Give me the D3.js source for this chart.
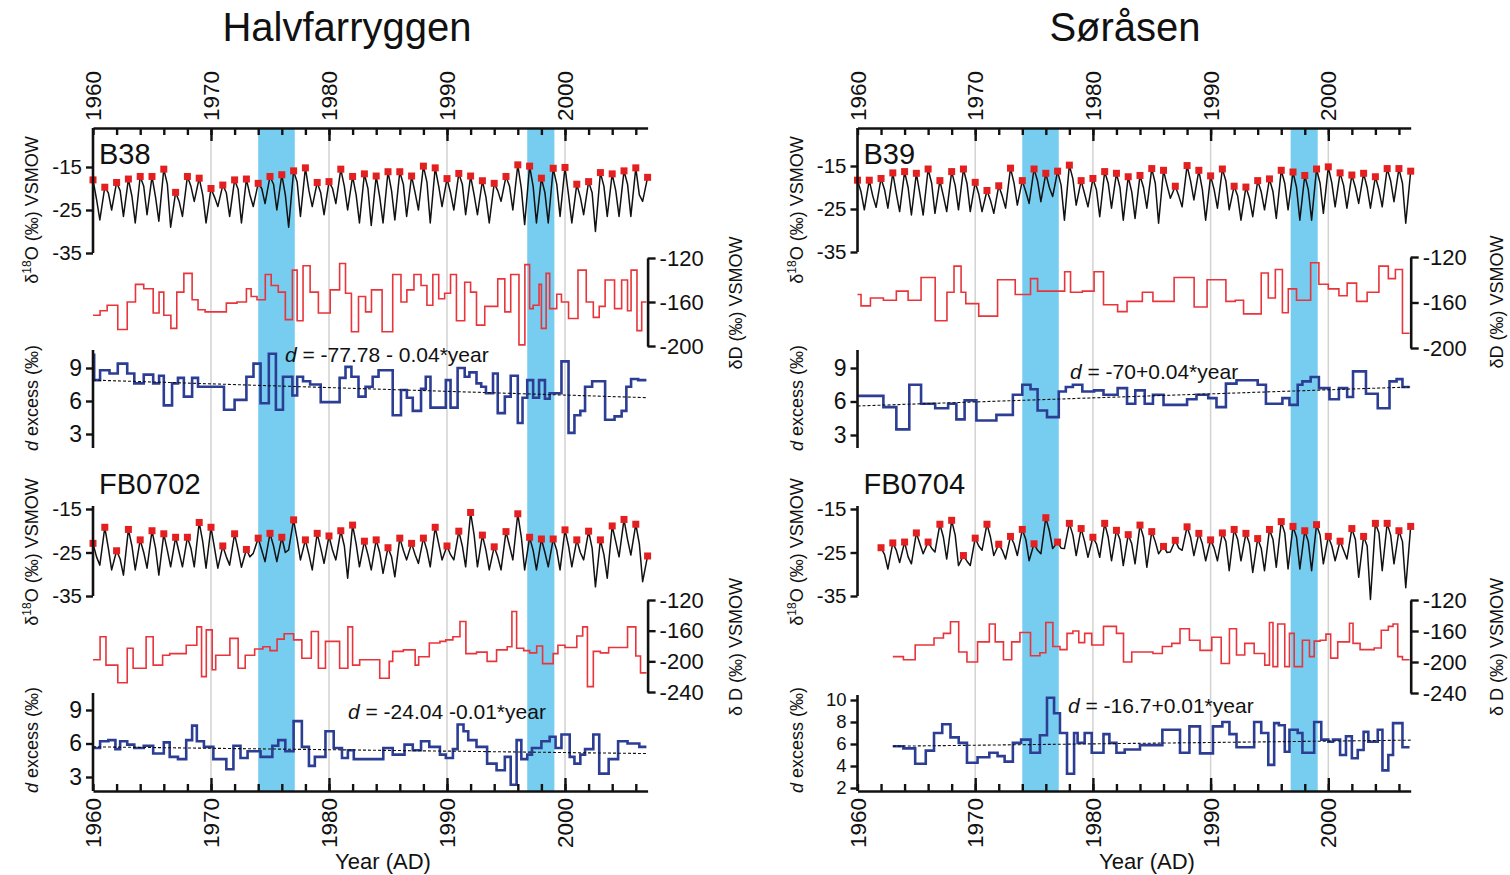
<!DOCTYPE html>
<html>
<head>
<meta charset="utf-8">
<script src="https://cdn.jsdelivr.net/npm/d3@7"></script>
<style>
  body { margin: 0; background: #fff; }
  text { font-family: "Liberation Sans", Arial, sans-serif; fill: #111; }
</style>
</head>
<body>
<script>
// ---- shared ticks / periods ----
const decadeTicks = [1960, 1970, 1980, 1990, 2000];
const minorTicks = [1960, 1962, 1964, 1966, 1968, 1970, 1972, 1974, 1976, 1978, 1980, 1982,
  1984, 1986, 1988, 1990, 1992, 1994, 1996, 1998, 2000, 2002, 2004, 2006];
const gridYears = [1970, 1980, 1990, 2000];
const bands = [[1974.0, 1977.1], [1996.8, 1999.1]];
const o18Ticks = [-15, -25, -35];
const seriesEnd = 2006.9;

// ---- B38 (Halvfarryggen, upper) ----
// annual summer peaks (red dots) from 1960, troughs mid-year, shoulder after peak
const b38Peaks = [-18.0, -19.7, -18.6, -17.8, -17.2, -17.2, -15.5, -20.9, -17.2, -17.6,
  -20.0, -19.2, -18.0, -17.8, -18.8, -17.2, -16.8, -15.9, -15.2, -18.6,
  -18.4, -15.5, -17.2, -16.6, -17.1, -16.1, -16.1, -17.1, -14.8, -15.2,
  -17.7, -16.5, -17.1, -18.2, -18.8, -17.2, -14.5, -14.8, -17.6, -15.3,
  -15.1, -19.0, -18.4, -16.3, -16.6, -15.9, -15.2, -17.4];
const b38Shoulders = [-22.5, -21.0, -20.5, -21.8, -19.5, -22.0, -19.0, -23.0, -19.5, -21.5,
  -22.0, -21.0, -20.2, -21.5, -20.0, -19.0, -21.5, -18.5, -20.5, -21.0,
  -20.0, -19.5, -21.5, -20.0, -22.0, -20.5, -19.0, -21.0, -18.5, -19.5,
  -21.0, -19.0, -21.5, -22.0, -20.5, -19.5, -20.0, -19.5, -21.0, -19.0,
  -21.5, -22.0, -21.0, -19.5, -20.5, -19.0, -21.5];
const b38Troughs = [-27.3, -25.0, -26.5, -28.0, -26.1, -27.6, -29.0, -26.5, -23.0, -28.0,
  -24.2, -26.5, -28.0, -24.2, -23.5, -25.0, -29.0, -26.5, -24.2, -26.1,
  -23.5, -25.0, -28.0, -28.6, -28.0, -27.3, -26.5, -25.0, -28.0, -24.2,
  -25.0, -26.1, -26.1, -28.0, -23.0, -25.0, -28.4, -28.0, -28.0, -26.5,
  -28.0, -26.1, -30.0, -26.5, -26.5, -26.5, -23.0];
const b38dD = [[1960.0, -172], [1960.6, -168], [1961.2, -163], [1962.1, -185], [1962.9, -160],
  [1963.6, -144], [1964.3, -148], [1965.1, -170], [1965.6, -151], [1966.0, -172], [1966.6, -184],
  [1967.1, -151], [1967.7, -134], [1968.4, -158], [1968.9, -167], [1969.5, -169], [1971.3, -161],
  [1972.2, -160], [1973.0, -148], [1973.4, -155], [1973.9, -158], [1974.6, -135], [1975.1, -145],
  [1975.7, -151], [1976.3, -176], [1976.9, -131], [1977.3, -177], [1977.8, -127], [1978.4, -151],
  [1979.1, -170], [1980.1, -149], [1980.9, -125], [1981.4, -152], [1981.9, -187], [1982.5, -155],
  [1983.1, -169], [1983.6, -149], [1984.5, -187], [1985.4, -135], [1986.1, -160], [1986.6, -149],
  [1987.2, -135], [1987.8, -145], [1988.3, -163], [1988.8, -135], [1989.3, -157], [1989.8, -152],
  [1990.3, -135], [1990.8, -177], [1991.5, -142], [1992.0, -151], [1992.5, -181], [1993.2, -164],
  [1994.3, -139], [1994.9, -169], [1995.4, -135], [1996.1, -199], [1996.6, -126], [1997.0, -166],
  [1997.3, -163], [1997.8, -144], [1998.0, -184], [1998.4, -134], [1998.7, -166], [1999.3, -153],
  [1999.7, -160], [2000.3, -175], [2001.1, -131], [2001.8, -160], [2002.4, -174], [2002.9, -164],
  [2003.4, -140], [2004.2, -166], [2004.8, -140], [2005.3, -168], [2005.6, -131], [2006.1, -186],
  [2006.5, -160]];
const b38Dex = [[1960.0, 10.2], [1960.1, 7.9], [1960.6, 8.8], [1961.4, 8.5], [1962.1, 9.4],
  [1962.9, 8.5], [1963.5, 7.6], [1964.3, 8.4], [1965.1, 7.6], [1965.6, 8.3], [1966.0, 5.6],
  [1966.7, 7.6], [1967.2, 8.1], [1967.7, 6.4], [1968.4, 8.1], [1968.9, 7.3], [1971.1, 5.2],
  [1972.0, 6.1], [1973.0, 8.2], [1973.6, 9.4], [1974.2, 5.8], [1974.9, 10.3], [1975.5, 5.2],
  [1976.1, 8.2], [1976.9, 6.5], [1977.3, 8.2], [1977.8, 7.8], [1978.4, 7.5], [1979.3, 5.9],
  [1980.9, 8.1], [1981.4, 9.1], [1981.9, 8.2], [1982.5, 6.4], [1983.1, 7.3], [1983.7, 8.2],
  [1984.2, 8.8], [1985.4, 4.7], [1986.1, 7.0], [1986.6, 6.3], [1987.1, 5.1], [1987.8, 7.1],
  [1988.2, 8.2], [1988.6, 5.4], [1989.9, 7.9], [1990.3, 5.4], [1990.9, 9.0], [1991.5, 8.2],
  [1991.9, 8.6], [1992.5, 7.6], [1992.9, 7.3], [1993.3, 6.7], [1993.9, 8.5], [1994.3, 4.9],
  [1994.9, 6.4], [1995.4, 8.3], [1996.0, 4.0], [1996.4, 6.3], [1996.8, 7.9], [1997.3, 6.3],
  [1997.8, 7.9], [1998.3, 6.2], [1998.7, 6.7], [1999.7, 9.6], [2000.3, 3.1], [2000.8, 4.7],
  [2001.3, 5.1], [2001.7, 7.3], [2002.3, 7.8], [2003.4, 4.3], [2004.2, 4.6], [2004.8, 5.1],
  [2005.2, 7.3], [2005.6, 8.0], [2006.2, 7.9]];
const b38Trend = [[1960, 7.9], [2007, 6.3]];

// ---- FB0702 (Halvfarryggen, lower) ----
const fb0702Peaks = [-22.9, -19.2, -24.6, -19.7, -22.1, -20.0, -20.7, -21.5, -21.5, -18.1,
  -19.2, -23.5, -20.7, -24.3, -21.7, -20.6, -21.5, -17.5, -22.1, -20.6,
  -21.2, -20.0, -18.7, -22.4, -22.1, -23.9, -21.7, -22.9, -21.7, -19.2,
  -23.5, -20.1, -15.8, -21.0, -23.7, -20.2, -16.1, -21.5, -21.9, -21.9,
  -19.8, -22.1, -20.1, -22.1, -18.9, -17.4, -18.5, -25.8];
const fb0702Shoulders = [-26.0, -24.0, -26.5, -23.5, -25.0, -24.0, -24.5, -25.0, -24.0, -22.5,
  -24.0, -26.0, -24.5, -26.0, -24.5, -23.5, -25.0, -22.0, -25.5, -24.0,
  -24.5, -23.5, -23.0, -25.5, -25.0, -26.0, -24.5, -25.5, -24.5, -23.0,
  -25.5, -23.5, -21.0, -24.5, -26.0, -23.5, -21.5, -24.5, -25.0, -24.5,
  -23.5, -25.0, -24.0, -25.5, -22.5, -22.0, -23.0];
const fb0702Troughs = [-27.9, -29.0, -30.2, -29.0, -28.6, -30.2, -28.3, -28.3, -28.3, -28.6,
  -28.6, -27.9, -28.4, -25.2, -27.1, -27.1, -24.4, -26.7, -29.0, -27.5,
  -26.7, -30.9, -28.3, -29.0, -29.8, -30.6, -26.7, -27.5, -28.3, -26.7,
  -26.7, -28.3, -28.3, -29.0, -29.0, -26.7, -29.0, -29.0, -28.3, -29.0,
  -28.3, -26.7, -32.9, -30.9, -26.0, -25.6, -31.7];
const fb0702dD = [[1960.0, -198], [1960.6, -168], [1961.1, -205], [1962.1, -228], [1962.9, -183],
  [1963.4, -209], [1964.5, -168], [1965.1, -205], [1965.9, -192], [1966.5, -190], [1967.9, -179],
  [1968.8, -155], [1969.2, -220], [1969.6, -159], [1970.1, -211], [1970.4, -192], [1971.6, -170],
  [1972.3, -209], [1972.9, -192], [1973.7, -184], [1974.4, -181], [1975.0, -186], [1975.6, -171],
  [1976.2, -164], [1977.0, -172], [1977.7, -196], [1978.5, -161], [1979.1, -209], [1979.7, -174],
  [1980.9, -209], [1981.6, -155], [1982.0, -205], [1982.6, -198], [1984.3, -222], [1985.1, -200],
  [1985.4, -187], [1986.3, -185], [1987.3, -205], [1987.6, -194], [1988.5, -176], [1989.4, -174],
  [1989.9, -172], [1990.5, -168], [1991.1, -148], [1991.6, -190], [1992.5, -188], [1993.4, -200],
  [1994.2, -185], [1995.1, -181], [1995.5, -135], [1995.9, -183], [1996.5, -186], [1997.0, -189],
  [1997.6, -180], [1998.1, -203], [1999.0, -190], [1999.4, -179], [2000.0, -182], [2001.0, -167],
  [2001.5, -155], [2001.9, -233], [2002.4, -187], [2003.0, -189], [2003.7, -182], [2005.3, -155],
  [2006.0, -193], [2006.4, -215]];
const fb0702Dex = [[1960.0, 5.6], [1960.6, 6.2], [1961.3, 6.3], [1961.9, 5.5], [1962.3, 6.2],
  [1962.9, 5.9], [1963.5, 5.6], [1964.3, 5.8], [1965.1, 5.1], [1966.0, 6.1], [1966.5, 4.8],
  [1967.2, 4.6], [1967.9, 6.3], [1968.4, 7.6], [1968.8, 6.2], [1969.4, 5.7], [1970.2, 4.6],
  [1971.3, 3.7], [1971.9, 5.8], [1972.5, 4.7], [1973.1, 5.3], [1974.2, 4.8], [1975.2, 5.8],
  [1975.7, 6.3], [1976.3, 5.3], [1977.0, 8.0], [1977.7, 5.7], [1978.3, 4.0], [1978.8, 4.8],
  [1979.7, 7.1], [1980.4, 5.6], [1981.1, 4.7], [1981.6, 5.4], [1982.1, 4.6], [1984.6, 5.6],
  [1985.4, 5.0], [1986.4, 5.9], [1987.1, 5.4], [1987.8, 6.2], [1988.5, 5.7], [1989.4, 5.0],
  [1989.9, 4.7], [1990.5, 5.5], [1990.9, 7.7], [1991.4, 7.1], [1991.8, 6.3], [1992.5, 5.7],
  [1993.4, 4.2], [1994.2, 3.6], [1994.9, 4.8], [1995.4, 2.3], [1995.9, 6.3], [1996.3, 4.6],
  [1996.8, 5.0], [1997.2, 5.6], [1998.0, 6.2], [1998.7, 6.6], [1999.2, 5.6], [1999.7, 6.8],
  [2000.4, 4.8], [2000.8, 4.2], [2001.3, 5.0], [2001.7, 5.5], [2002.4, 6.8], [2002.9, 3.3],
  [2003.7, 4.6], [2004.5, 6.2], [2005.3, 6.0], [2006.3, 5.7]];
const fb0702Trend = [[1960, 5.7], [2007, 5.1]];

// ---- B39 (Søråsen, upper) ----
const b39Peaks = [-18.3, -18.3, -17.9, -16.6, -16.3, -16.7, -15.7, -18.4, -16.3, -15.7,
  -18.8, -20.7, -19.6, -15.5, -18.4, -15.7, -16.7, -16.2, -14.8, -18.4,
  -17.9, -16.3, -16.7, -17.5, -17.2, -15.6, -16.0, -19.7, -14.9, -16.0,
  -17.3, -15.7, -19.7, -19.9, -18.4, -18.0, -16.0, -16.4, -17.2, -15.7,
  -15.2, -16.6, -17.1, -16.7, -17.5, -15.6, -15.6, -16.2];
const b39Shoulders = [-21.0, -22.0, -20.5, -21.5, -20.0, -21.5, -19.0, -22.0, -19.5, -19.0,
  -21.5, -23.0, -22.0, -19.0, -21.0, -18.5, -20.0, -19.5, -18.0, -21.5,
  -20.5, -19.0, -20.0, -21.0, -20.0, -19.0, -19.5, -22.0, -18.5, -20.5,
  -20.5, -18.5, -22.0, -22.5, -21.0, -21.0, -19.0, -20.0, -20.5, -19.0,
  -19.0, -19.5, -20.0, -20.0, -20.5, -18.5, -19.0];
const b39Troughs = [-25.2, -24.6, -24.8, -25.6, -26.4, -26.4, -26.0, -25.6, -25.2, -25.6,
  -25.6, -26.0, -24.8, -24.1, -23.7, -23.3, -22.1, -27.6, -24.1, -24.5,
  -26.8, -24.8, -27.6, -27.2, -24.8, -28.3, -22.5, -24.5, -22.9, -27.6,
  -24.8, -25.2, -27.6, -26.8, -25.2, -27.2, -25.2, -27.6, -27.6, -26.0,
  -24.5, -24.8, -23.7, -24.8, -24.5, -23.3, -28.3];
const b39dD = [[1960.0, -153], [1960.3, -163], [1961.1, -156], [1962.2, -158], [1963.3, -150],
  [1964.3, -158], [1965.4, -138], [1966.6, -176], [1967.6, -151], [1968.2, -128], [1968.8, -151],
  [1969.2, -161], [1970.3, -172], [1971.9, -140], [1973.4, -153], [1974.7, -139], [1975.3, -150],
  [1977.6, -133], [1978.1, -151], [1979.1, -150], [1980.1, -133], [1980.9, -162], [1982.1, -168],
  [1982.9, -159], [1984.2, -151], [1985.1, -159], [1986.9, -138], [1988.6, -164], [1989.7, -140],
  [1991.3, -159], [1992.1, -158], [1992.8, -170], [1994.3, -134], [1994.9, -156], [1995.5, -131],
  [1996.1, -169], [1996.6, -148], [1997.3, -158], [1998.5, -125], [1999.2, -144], [2000.0, -148],
  [2000.9, -154], [2001.6, -143], [2002.4, -159], [2003.3, -151], [2004.3, -128], [2005.1, -139],
  [2005.7, -131], [2006.3, -187]];
const b39Dex = [[1960.0, 6.5], [1962.2, 5.5], [1963.3, 3.5], [1964.4, 7.5], [1965.4, 5.8],
  [1966.6, 5.4], [1967.7, 5.8], [1968.4, 4.4], [1969.1, 6.1], [1970.1, 4.3], [1971.8, 4.8],
  [1973.2, 6.6], [1974.0, 7.5], [1974.7, 7.1], [1975.3, 5.2], [1976.1, 4.6], [1977.1, 6.9],
  [1977.7, 7.3], [1978.3, 7.5], [1979.1, 6.9], [1980.1, 7.0], [1980.9, 6.6], [1982.1, 7.2],
  [1982.9, 5.8], [1983.6, 7.0], [1984.4, 5.8], [1985.1, 6.6], [1986.0, 5.7], [1988.0, 6.2],
  [1988.8, 6.6], [1989.8, 6.3], [1990.5, 5.5], [1991.3, 7.6], [1992.2, 7.9], [1994.0, 7.5],
  [1994.7, 5.8], [1996.1, 6.3], [1996.7, 5.7], [1997.4, 7.5], [1997.8, 7.8], [1998.5, 8.2],
  [1999.2, 7.2], [2000.1, 6.2], [2000.9, 7.2], [2001.6, 6.4], [2002.1, 8.7], [2003.2, 6.7],
  [2004.2, 5.4], [2005.2, 7.8], [2005.8, 8.0], [2006.3, 7.3]];
const b39Trend = [[1960, 5.6], [2007, 7.3]];

// ---- FB0704 (Søråsen, lower), starts 1962 ----
const fb0704Peaks = [-23.9, -22.8, -22.6, -20.5, -22.6, -18.5, -17.6, -25.7,
  -21.7, -18.5, -23.1, -21.3, -19.7, -23.0, -17.0, -22.6, -18.3, -19.5,
  -21.5, -18.3, -19.9, -20.9, -18.7, -20.2, -23.6, -22.2, -19.1, -20.6,
  -22.1, -20.5, -19.7, -20.6, -21.8, -19.7, -17.9, -19.0, -20.0, -18.6,
  -21.3, -22.4, -19.5, -21.3, -18.3, -18.3, -20.0, -19.0];
const fb0704Shoulders = [-25.5, -24.5, -26.0, -23.0, -24.0, -21.5, -21.0, -27.0,
  -23.5, -21.5, -24.5, -23.0, -22.0, -24.5, -20.0, -24.0, -21.0, -22.5,
  -23.0, -21.5, -22.0, -23.0, -21.5, -22.5, -25.0, -24.0, -21.5, -23.0,
  -24.0, -22.5, -22.0, -23.0, -24.0, -22.0, -20.5, -21.5, -22.5, -21.0,
  -23.5, -24.5, -22.0, -23.5, -20.5, -21.0, -22.5];
const fb0704Troughs = [-28.8, -27.3, -27.6, -25.3, -24.9, -26.5, -28.0, -28.0,
  -24.5, -25.7, -26.5, -25.7, -26.9, -25.3, -24.1, -24.1, -25.7, -26.1,
  -26.1, -26.9, -28.0, -27.6, -28.4, -25.3, -24.9, -24.5, -25.7, -26.9,
  -26.9, -29.2, -26.9, -29.6, -29.2, -28.4, -28.8, -28.8, -29.2, -27.6,
  -26.9, -26.5, -30.7, -35.8, -29.2, -27.6, -33.1];
const fb0704dD = [[1963.0, -193], [1963.9, -197], [1964.9, -178], [1966.5, -169], [1967.3, -163],
  [1967.9, -148], [1968.6, -187], [1969.3, -200], [1970.2, -174], [1971.2, -151], [1971.7, -174],
  [1972.4, -197], [1973.1, -174], [1973.8, -162], [1974.7, -192], [1975.5, -188], [1976.0, -149],
  [1976.6, -180], [1977.2, -184], [1977.8, -163], [1978.3, -160], [1978.8, -175], [1979.3, -163],
  [1979.9, -178], [1980.9, -154], [1982.0, -163], [1982.6, -200], [1983.3, -187], [1985.1, -189],
  [1985.9, -180], [1986.7, -176], [1987.4, -157], [1988.2, -172], [1989.1, -185], [1990.1, -168],
  [1990.9, -202], [1991.6, -157], [1992.2, -191], [1992.9, -176], [1993.7, -189], [1994.6, -204],
  [1995.0, -149], [1995.3, -206], [1995.7, -151], [1996.3, -206], [1996.7, -163], [1997.1, -206],
  [1997.8, -172], [1998.4, -193], [1998.8, -173], [1999.3, -172], [1999.8, -164], [2000.2, -195],
  [2000.8, -174], [2001.8, -150], [2002.1, -176], [2002.7, -184], [2003.9, -182], [2004.5, -159],
  [2005.1, -154], [2005.5, -151], [2005.9, -193], [2006.3, -197]];
const fb0704Dex = [[1963.0, 5.8], [1963.9, 5.6], [1964.9, 4.2], [1965.8, 5.4], [1966.5, 7.0],
  [1967.2, 7.8], [1967.9, 6.6], [1968.6, 6.1], [1969.3, 4.3], [1970.2, 4.8], [1971.2, 5.2],
  [1971.9, 4.9], [1972.5, 4.4], [1973.2, 6.1], [1973.9, 6.4], [1974.7, 5.2], [1975.5, 6.8],
  [1976.1, 10.2], [1976.7, 8.8], [1977.2, 7.0], [1977.8, 3.3], [1978.4, 7.0], [1978.7, 6.1],
  [1979.3, 7.0], [1979.9, 5.2], [1980.9, 6.9], [1981.4, 6.1], [1982.0, 5.2], [1982.7, 5.5],
  [1984.0, 5.9], [1985.9, 7.3], [1987.4, 5.2], [1988.2, 7.6], [1989.1, 5.15], [1990.2, 7.6],
  [1991.0, 8.0], [1991.6, 6.9], [1992.2, 5.7], [1993.7, 8.0], [1994.3, 7.0], [1994.9, 4.1],
  [1995.4, 7.9], [1995.8, 7.7], [1996.3, 5.3], [1996.7, 7.3], [1997.4, 7.0], [1997.8, 5.2],
  [1998.8, 8.0], [1999.4, 6.4], [2000.0, 6.2], [2000.4, 6.4], [2001.0, 5.0], [2001.5, 6.7],
  [2002.0, 4.7], [2002.5, 5.45], [2003.0, 7.1], [2003.4, 6.2], [2004.2, 7.3], [2004.6, 3.6],
  [2005.1, 5.0], [2005.5, 7.9], [2006.3, 5.7]];
const fb0704Trend = [[1963, 5.8], [2007, 6.35]];

// ---- layout ----
const topAxisY = 128, bottomAxisY = 791;
const colors = { trace: '#111', dot: '#e3201f', dD: '#e8343a', dex: '#2c3d94', band: '#76cdef', grid: '#d2d2d2' };

const panels = [
  { title: 'Halvfarryggen', titleX: 347, xRange: [93, 647.6], leftLabelX: 38, rightLabelX: 742, yearX: 383,
    cores: [
      { name: 'B38', start: 1960, peaks: b38Peaks, shoulders: b38Shoulders, troughs: b38Troughs,
        dD: b38dD, dex: b38Dex, trend: b38Trend,
        o18Range: [167, 253], o18Axis: [topAxisY, 253], nameY: 164,
        dDDomain: [-120, -200], dDRange: [258, 346], dDTicks: [-120, -160, -200], dDLabel: 'δD (‰) VSMOW',
        dexDomain: [9, 3], dexRange: [368, 434], dexAxis: [350, 448], dexTicks: [3, 6, 9], dexFont: 23,
        o18LabelY: 210, dDLabelY: 303, dexLabelY: 398,
        eq: ' = -77.78 - 0.04*year', eqX: 285, eqY: 362 },
      { name: 'FB0702', start: 1960, peaks: fb0702Peaks, shoulders: fb0702Shoulders, troughs: fb0702Troughs,
        dD: fb0702dD, dex: fb0702Dex, trend: fb0702Trend,
        o18Range: [509, 596], o18Axis: [506, 596], nameY: 494,
        dDDomain: [-120, -240], dDRange: [600, 692], dDTicks: [-120, -160, -200, -240], dDLabel: 'δ D (‰) VSMOW',
        dexDomain: [9, 3], dexRange: [710, 777], dexAxis: [693, bottomAxisY], dexTicks: [3, 6, 9], dexFont: 23,
        o18LabelY: 552, dDLabelY: 647, dexLabelY: 740,
        eq: ' = -24.04 -0.01*year', eqX: 348, eqY: 719 }
    ] },
  { title: 'Søråsen', titleX: 1125, xRange: [857.5, 1410.7], leftLabelX: 803, rightLabelX: 1503, yearX: 1147,
    cores: [
      { name: 'B39', start: 1960, peaks: b39Peaks, shoulders: b39Shoulders, troughs: b39Troughs,
        dD: b39dD, dex: b39Dex, trend: b39Trend,
        o18Range: [166, 252], o18Axis: [topAxisY, 252], nameY: 164,
        dDDomain: [-120, -200], dDRange: [257, 348], dDTicks: [-120, -160, -200], dDLabel: 'δD (‰) VSMOW',
        dexDomain: [9, 3], dexRange: [368, 435], dexAxis: [350, 448], dexTicks: [3, 6, 9], dexFont: 23,
        o18LabelY: 210, dDLabelY: 302, dexLabelY: 398,
        eq: ' = -70+0.04*year', eqX: 1070, eqY: 379 },
      { name: 'FB0704', start: 1962, peaks: fb0704Peaks, shoulders: fb0704Shoulders, troughs: fb0704Troughs,
        dD: fb0704dD, dex: fb0704Dex, trend: fb0704Trend,
        o18Range: [509, 596], o18Axis: [506, 596], nameY: 494,
        dDDomain: [-120, -240], dDRange: [600, 693], dDTicks: [-120, -160, -200, -240], dDLabel: 'δ D (‰) VSMOW',
        dexDomain: [10, 2], dexRange: [700, 788], dexAxis: [695, bottomAxisY], dexTicks: [2, 4, 6, 8, 10], dexFont: 18.5,
        o18LabelY: 552, dDLabelY: 647, dexLabelY: 740,
        eq: ' = -16.7+0.01*year', eqX: 1068, eqY: 713 }
    ] }
];

const svg = d3.select('body').append('svg')
  .attr('width', 1510).attr('height', 875);

// style an axis group: thick black lines, Liberation font
function styleAxis(g, fontSize) {
  g.attr('font-family', '"Liberation Sans", Arial, sans-serif').attr('font-size', fontSize);
  g.selectAll('.domain').attr('stroke', '#111').attr('stroke-width', 2.6);
  g.selectAll('.tick line').attr('stroke', '#111').attr('stroke-width', 2.4);
  g.selectAll('.tick text').attr('fill', '#111');
}

// sub-annual trace: peak at the year, shoulder after, trough mid-year
function tracePoints(c) {
  const pts = [];
  c.peaks.forEach((p, i) => {
    pts.push([c.start + i, p]);
    if (i < c.troughs.length) {
      pts.push([c.start + i + 0.3, c.shoulders[i]]);
      pts.push([c.start + i + 0.58, c.troughs[i]]);
    }
  });
  return pts;
}

function drawCore(p, x, c) {
  const g = svg.append('g');
  const yO = d3.scaleLinear().domain([-15, -35]).range(c.o18Range);
  const yD = d3.scaleLinear().domain(c.dDDomain).range(c.dDRange);
  const yX = d3.scaleLinear().domain(c.dexDomain).range(c.dexRange);

  // δ18O trace
  const line = d3.line().x(d => x(d[0])).y(d => yO(d[1]));
  g.append('path').datum(tracePoints(c))
    .attr('d', line).attr('fill', 'none')
    .attr('stroke', colors.trace).attr('stroke-width', 1.5).attr('stroke-linejoin', 'round');
  g.selectAll('rect.peak').data(c.peaks).enter().append('rect')
    .attr('class', 'peak')
    .attr('x', (d, i) => x(c.start + i) - 3.5).attr('y', d => yO(d) - 3.5)
    .attr('width', 7).attr('height', 7).attr('fill', colors.dot);

  // δD step line
  const stepD = d3.line().x(d => x(d[0])).y(d => yD(d[1])).curve(d3.curveStepAfter);
  g.append('path').datum(c.dD.concat([[seriesEnd, c.dD[c.dD.length - 1][1]]]))
    .attr('d', stepD).attr('fill', 'none')
    .attr('stroke', colors.dD).attr('stroke-width', 1.6);

  // d excess step line + trend
  const stepX = d3.line().x(d => x(d[0])).y(d => yX(d[1])).curve(d3.curveStepAfter);
  g.append('path').datum(c.dex.concat([[seriesEnd, c.dex[c.dex.length - 1][1]]]))
    .attr('d', stepX).attr('fill', 'none')
    .attr('stroke', colors.dex).attr('stroke-width', 2.6);
  g.append('path').datum(c.trend)
    .attr('d', d3.line().x(d => x(d[0])).y(d => yX(d[1])))
    .attr('stroke', '#111').attr('stroke-width', 1.1).attr('stroke-dasharray', '3,2').attr('fill', 'none');

  const x0 = p.xRange[0], x1 = p.xRange[1];

  // left δ18O axis
  const ao = g.append('g').attr('transform', `translate(${x0},0)`)
    .call(d3.axisLeft(yO).tickValues(o18Ticks).tickSize(7).tickSizeOuter(0).tickPadding(4).tickFormat(d => d));
  ao.select('.domain').remove();
  styleAxis(ao, 20.5);
  g.append('line').attr('x1', x0).attr('x2', x0).attr('y1', c.o18Axis[0]).attr('y2', c.o18Axis[1])
    .attr('stroke', '#111').attr('stroke-width', 2.6);

  // right δD axis (bracket)
  const ad = g.append('g').attr('transform', `translate(${x1},0)`)
    .call(d3.axisRight(yD).tickValues(c.dDTicks).tickSize(8).tickSizeOuter(0).tickPadding(4).tickFormat(d => d));
  styleAxis(ad, 22);

  // left d excess axis
  const ax = g.append('g').attr('transform', `translate(${x0},0)`)
    .call(d3.axisLeft(yX).tickValues(c.dexTicks).tickSize(7).tickSizeOuter(0).tickPadding(4).tickFormat(d => d));
  ax.select('.domain').remove();
  styleAxis(ax, c.dexFont);
  g.append('line').attr('x1', x0).attr('x2', x0).attr('y1', c.dexAxis[0]).attr('y2', c.dexAxis[1])
    .attr('stroke', '#111').attr('stroke-width', 2.6);

  // core name
  g.append('text').attr('x', x0 + 6).attr('y', c.nameY).attr('font-size', 29).text(c.name);

  // axis titles
  const o18 = g.append('text').attr('font-size', 18).attr('text-anchor', 'middle')
    .attr('transform', `translate(${p.leftLabelX},${c.o18LabelY}) rotate(-90)`);
  o18.append('tspan').text('δ');
  o18.append('tspan').attr('dy', -7).attr('font-size', 12).text('18');
  o18.append('tspan').attr('dy', 7).text('O (‰) VSMOW');

  const dx = g.append('text').attr('font-size', 18).attr('text-anchor', 'middle')
    .attr('transform', `translate(${p.leftLabelX},${c.dexLabelY}) rotate(-90)`);
  dx.append('tspan').attr('font-style', 'italic').text('d');
  dx.append('tspan').text(' excess (‰)');

  g.append('text').attr('font-size', 18).attr('text-anchor', 'middle')
    .attr('transform', `translate(${p.rightLabelX},${c.dDLabelY}) rotate(-90)`)
    .text(c.dDLabel);

  // regression equation
  const eq = g.append('text').attr('x', c.eqX).attr('y', c.eqY).attr('font-size', 21);
  eq.append('tspan').attr('font-style', 'italic').text('d');
  eq.append('tspan').text(c.eq);
}

panels.forEach(p => {
  const x = d3.scaleLinear().domain([1960, 2007]).range(p.xRange);
  const g = svg.append('g');

  // highlighted periods
  g.selectAll('rect.band').data(bands).enter().append('rect')
    .attr('x', d => x(d[0])).attr('width', d => x(d[1]) - x(d[0]))
    .attr('y', topAxisY).attr('height', bottomAxisY - topAxisY)
    .attr('fill', colors.band);

  // decade grid lines
  g.selectAll('line.grid').data(gridYears).enter().append('line')
    .attr('x1', d => x(d)).attr('x2', d => x(d))
    .attr('y1', topAxisY).attr('y2', bottomAxisY)
    .attr('stroke', colors.grid).attr('stroke-width', 1.5);

  p.cores.forEach(c => drawCore(p, x, c));

  // top and bottom year axes
  [[d3.axisTop, topAxisY, -1], [d3.axisBottom, bottomAxisY, 1]].forEach(([axisFn, y, dir]) => {
    const minor = svg.append('g').attr('transform', `translate(0,${y})`)
      .call(axisFn(x).tickValues(minorTicks).tickSize(-7).tickSizeOuter(0).tickFormat(''));
    styleAxis(minor, 10);
    const major = svg.append('g').attr('transform', `translate(0,${y})`)
      .call(axisFn(x).tickValues(decadeTicks.slice(1)).tickSize(-13).tickSizeOuter(0).tickFormat(''));
    major.select('.domain').remove();
    styleAxis(major, 10);

    svg.append('g').selectAll('text').data(decadeTicks).enter().append('text')
      .attr('font-size', 22.5)
      .attr('text-anchor', dir < 0 ? 'start' : 'end')
      .attr('transform', d => `translate(${x(d) + 8},${dir < 0 ? y - 7 : y + 7}) rotate(-90)`)
      .text(d => d);
  });

  svg.append('text').attr('x', p.titleX).attr('y', 41).attr('text-anchor', 'middle')
    .attr('font-size', 40).text(p.title);
  svg.append('text').attr('x', p.yearX).attr('y', 869).attr('text-anchor', 'middle')
    .attr('font-size', 22).text('Year (AD)');
});
</script>
</body>
</html>
